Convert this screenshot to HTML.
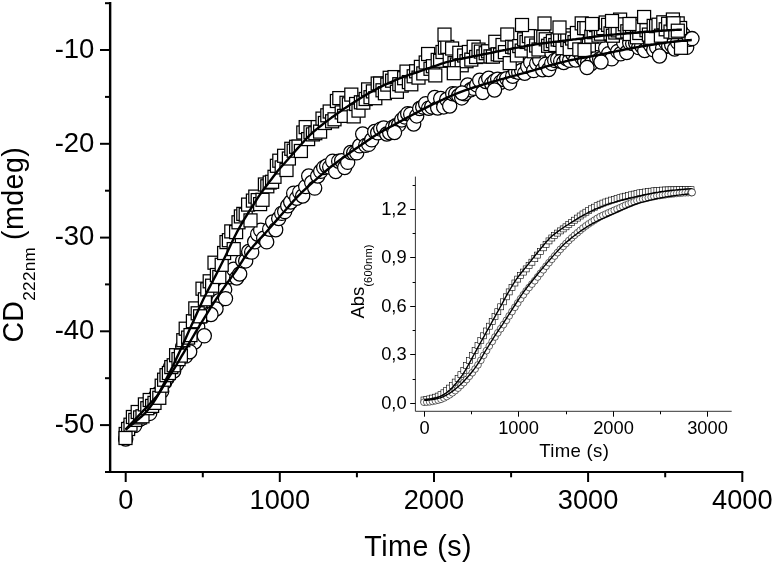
<!DOCTYPE html>
<html><head><meta charset="utf-8"><title>CD kinetics</title>
<style>
html,body{margin:0;padding:0;background:#fff;}
body{width:774px;height:565px;overflow:hidden;font-family:"Liberation Sans",sans-serif;}
svg{display:block;will-change:transform;}
svg text{font-family:"Liberation Sans",sans-serif;fill:#000;}
</style></head><body>
<svg width="774" height="565" viewBox="0 0 774 565">
<rect width="774" height="565" fill="#fff"/>
<g fill="#fff" stroke="#000" stroke-width="1.25">
<circle cx="125.7" cy="439.0" r="7.1"/>
<circle cx="128.7" cy="426.7" r="7.1"/>
<circle cx="131.7" cy="425.6" r="7.1"/>
<circle cx="134.7" cy="425.6" r="7.1"/>
<circle cx="137.7" cy="417.1" r="7.1"/>
<circle cx="140.7" cy="418.8" r="7.1"/>
<circle cx="143.7" cy="415.6" r="7.1"/>
<circle cx="146.7" cy="404.1" r="7.1"/>
<circle cx="149.7" cy="413.4" r="7.1"/>
<circle cx="152.7" cy="406.6" r="7.1"/>
<circle cx="155.7" cy="396.3" r="7.1"/>
<circle cx="158.7" cy="393.2" r="7.1"/>
<circle cx="161.7" cy="391.2" r="7.1"/>
<circle cx="164.7" cy="382.4" r="7.1"/>
<circle cx="167.7" cy="377.5" r="7.1"/>
<circle cx="170.7" cy="366.6" r="7.1"/>
<circle cx="173.7" cy="371.0" r="7.1"/>
<circle cx="176.7" cy="364.2" r="7.1"/>
<circle cx="179.7" cy="358.9" r="7.1"/>
<circle cx="182.7" cy="346.6" r="7.1"/>
<circle cx="185.7" cy="356.1" r="7.1"/>
<circle cx="188.7" cy="343.0" r="7.1"/>
<circle cx="191.7" cy="335.9" r="7.1"/>
<circle cx="194.7" cy="342.0" r="7.1"/>
<circle cx="197.7" cy="327.0" r="7.1"/>
<circle cx="200.7" cy="316.4" r="7.1"/>
<circle cx="203.7" cy="316.0" r="7.1"/>
<circle cx="206.7" cy="304.0" r="7.1"/>
<circle cx="209.7" cy="313.8" r="7.1"/>
<circle cx="212.7" cy="302.6" r="7.1"/>
<circle cx="215.7" cy="296.6" r="7.1"/>
<circle cx="218.7" cy="300.8" r="7.1"/>
<circle cx="221.7" cy="283.8" r="7.1"/>
<circle cx="224.7" cy="289.5" r="7.1"/>
<circle cx="227.7" cy="273.6" r="7.1"/>
<circle cx="230.7" cy="276.7" r="7.1"/>
<circle cx="233.7" cy="269.2" r="7.1"/>
<circle cx="236.7" cy="278.0" r="7.1"/>
<circle cx="239.7" cy="274.0" r="7.1"/>
<circle cx="242.7" cy="260.7" r="7.1"/>
<circle cx="245.7" cy="260.9" r="7.1"/>
<circle cx="248.7" cy="251.5" r="7.1"/>
<circle cx="251.7" cy="252.1" r="7.1"/>
<circle cx="254.7" cy="241.8" r="7.1"/>
<circle cx="257.7" cy="234.2" r="7.1"/>
<circle cx="260.7" cy="230.2" r="7.1"/>
<circle cx="263.7" cy="238.2" r="7.1"/>
<circle cx="266.7" cy="241.9" r="7.1"/>
<circle cx="269.7" cy="229.2" r="7.1"/>
<circle cx="272.7" cy="222.0" r="7.1"/>
<circle cx="275.7" cy="229.7" r="7.1"/>
<circle cx="278.7" cy="218.5" r="7.1"/>
<circle cx="281.7" cy="213.4" r="7.1"/>
<circle cx="284.7" cy="211.6" r="7.1"/>
<circle cx="287.7" cy="205.8" r="7.1"/>
<circle cx="290.7" cy="202.0" r="7.1"/>
<circle cx="293.7" cy="193.2" r="7.1"/>
<circle cx="296.7" cy="198.2" r="7.1"/>
<circle cx="299.7" cy="192.2" r="7.1"/>
<circle cx="302.7" cy="196.0" r="7.1"/>
<circle cx="305.7" cy="186.6" r="7.1"/>
<circle cx="308.7" cy="176.0" r="7.1"/>
<circle cx="311.7" cy="182.5" r="7.1"/>
<circle cx="314.7" cy="188.1" r="7.1"/>
<circle cx="317.7" cy="176.0" r="7.1"/>
<circle cx="320.7" cy="171.3" r="7.1"/>
<circle cx="323.7" cy="167.6" r="7.1"/>
<circle cx="326.7" cy="166.0" r="7.1"/>
<circle cx="329.7" cy="167.1" r="7.1"/>
<circle cx="332.7" cy="161.2" r="7.1"/>
<circle cx="335.7" cy="171.5" r="7.1"/>
<circle cx="338.7" cy="161.2" r="7.1"/>
<circle cx="341.7" cy="160.7" r="7.1"/>
<circle cx="344.7" cy="167.5" r="7.1"/>
<circle cx="347.7" cy="162.3" r="7.1"/>
<circle cx="350.7" cy="152.5" r="7.1"/>
<circle cx="353.7" cy="152.9" r="7.1"/>
<circle cx="356.7" cy="152.9" r="7.1"/>
<circle cx="359.7" cy="145.8" r="7.1"/>
<circle cx="362.7" cy="134.0" r="7.1"/>
<circle cx="365.7" cy="145.4" r="7.1"/>
<circle cx="368.7" cy="144.4" r="7.1"/>
<circle cx="371.7" cy="139.8" r="7.1"/>
<circle cx="374.7" cy="131.5" r="7.1"/>
<circle cx="377.7" cy="132.8" r="7.1"/>
<circle cx="380.7" cy="129.1" r="7.1"/>
<circle cx="383.7" cy="128.0" r="7.1"/>
<circle cx="386.7" cy="134.0" r="7.1"/>
<circle cx="389.7" cy="132.7" r="7.1"/>
<circle cx="392.7" cy="127.4" r="7.1"/>
<circle cx="395.7" cy="125.8" r="7.1"/>
<circle cx="398.7" cy="124.8" r="7.1"/>
<circle cx="401.7" cy="119.9" r="7.1"/>
<circle cx="404.7" cy="116.9" r="7.1"/>
<circle cx="407.7" cy="113.7" r="7.1"/>
<circle cx="410.7" cy="114.2" r="7.1"/>
<circle cx="413.7" cy="124.0" r="7.1"/>
<circle cx="416.7" cy="115.9" r="7.1"/>
<circle cx="419.7" cy="108.5" r="7.1"/>
<circle cx="422.7" cy="106.9" r="7.1"/>
<circle cx="425.7" cy="103.7" r="7.1"/>
<circle cx="428.7" cy="108.2" r="7.1"/>
<circle cx="431.7" cy="106.9" r="7.1"/>
<circle cx="434.7" cy="97.5" r="7.1"/>
<circle cx="437.7" cy="108.0" r="7.1"/>
<circle cx="440.7" cy="98.5" r="7.1"/>
<circle cx="443.7" cy="106.9" r="7.1"/>
<circle cx="446.7" cy="99.5" r="7.1"/>
<circle cx="449.7" cy="106.0" r="7.1"/>
<circle cx="452.7" cy="93.7" r="7.1"/>
<circle cx="455.7" cy="93.9" r="7.1"/>
<circle cx="458.7" cy="95.8" r="7.1"/>
<circle cx="461.7" cy="97.9" r="7.1"/>
<circle cx="464.7" cy="93.7" r="7.1"/>
<circle cx="467.7" cy="85.0" r="7.1"/>
<circle cx="470.7" cy="89.8" r="7.1"/>
<circle cx="473.7" cy="88.3" r="7.1"/>
<circle cx="476.7" cy="84.9" r="7.1"/>
<circle cx="479.7" cy="80.3" r="7.1"/>
<circle cx="482.7" cy="92.5" r="7.1"/>
<circle cx="485.7" cy="81.5" r="7.1"/>
<circle cx="488.7" cy="78.3" r="7.1"/>
<circle cx="491.7" cy="83.7" r="7.1"/>
<circle cx="494.7" cy="81.0" r="7.1"/>
<circle cx="497.7" cy="79.1" r="7.1"/>
<circle cx="500.7" cy="82.2" r="7.1"/>
<circle cx="503.7" cy="79.5" r="7.1"/>
<circle cx="506.7" cy="78.6" r="7.1"/>
<circle cx="509.7" cy="82.9" r="7.1"/>
<circle cx="512.7" cy="76.2" r="7.1"/>
<circle cx="515.7" cy="71.6" r="7.1"/>
<circle cx="518.7" cy="72.3" r="7.1"/>
<circle cx="521.7" cy="70.4" r="7.1"/>
<circle cx="524.7" cy="73.2" r="7.1"/>
<circle cx="527.7" cy="66.6" r="7.1"/>
<circle cx="530.7" cy="62.3" r="7.1"/>
<circle cx="533.7" cy="70.6" r="7.1"/>
<circle cx="536.7" cy="63.4" r="7.1"/>
<circle cx="539.7" cy="60.0" r="7.1"/>
<circle cx="542.7" cy="69.7" r="7.1"/>
<circle cx="545.7" cy="64.2" r="7.1"/>
<circle cx="548.7" cy="69.5" r="7.1"/>
<circle cx="551.7" cy="63.4" r="7.1"/>
<circle cx="554.7" cy="60.4" r="7.1"/>
<circle cx="557.7" cy="59.3" r="7.1"/>
<circle cx="560.7" cy="61.2" r="7.1"/>
<circle cx="563.7" cy="62.5" r="7.1"/>
<circle cx="566.7" cy="58.7" r="7.1"/>
<circle cx="569.7" cy="60.3" r="7.1"/>
<circle cx="572.7" cy="54.0" r="7.1"/>
<circle cx="575.7" cy="60.0" r="7.1"/>
<circle cx="578.7" cy="51.1" r="7.1"/>
<circle cx="581.7" cy="57.5" r="7.1"/>
<circle cx="584.7" cy="61.0" r="7.1"/>
<circle cx="587.7" cy="61.9" r="7.1"/>
<circle cx="590.7" cy="64.0" r="7.1"/>
<circle cx="593.7" cy="48.2" r="7.1"/>
<circle cx="596.7" cy="57.8" r="7.1"/>
<circle cx="599.7" cy="59.1" r="7.1"/>
<circle cx="602.7" cy="57.6" r="7.1"/>
<circle cx="605.7" cy="48.2" r="7.1"/>
<circle cx="608.7" cy="53.7" r="7.1"/>
<circle cx="611.7" cy="58.8" r="7.1"/>
<circle cx="614.7" cy="44.0" r="7.1"/>
<circle cx="617.7" cy="51.4" r="7.1"/>
<circle cx="620.7" cy="53.8" r="7.1"/>
<circle cx="623.7" cy="42.6" r="7.1"/>
<circle cx="626.7" cy="52.5" r="7.1"/>
<circle cx="629.7" cy="42.8" r="7.1"/>
<circle cx="632.7" cy="43.5" r="7.1"/>
<circle cx="635.7" cy="43.1" r="7.1"/>
<circle cx="638.7" cy="47.6" r="7.1"/>
<circle cx="641.7" cy="46.1" r="7.1"/>
<circle cx="644.7" cy="50.5" r="7.1"/>
<circle cx="647.7" cy="41.6" r="7.1"/>
<circle cx="650.7" cy="45.2" r="7.1"/>
<circle cx="653.7" cy="49.9" r="7.1"/>
<circle cx="656.7" cy="47.2" r="7.1"/>
<circle cx="659.7" cy="38.8" r="7.1"/>
<circle cx="662.7" cy="48.0" r="7.1"/>
<circle cx="665.7" cy="42.3" r="7.1"/>
<circle cx="668.7" cy="46.0" r="7.1"/>
<circle cx="671.7" cy="45.1" r="7.1"/>
<circle cx="674.7" cy="49.0" r="7.1"/>
<circle cx="677.7" cy="42.3" r="7.1"/>
<circle cx="680.7" cy="30.9" r="7.1"/>
<circle cx="683.7" cy="34.9" r="7.1"/>
<circle cx="686.7" cy="47.3" r="7.1"/>
<circle cx="689.7" cy="39.3" r="7.1"/>
<circle cx="204.3" cy="335.8" r="7.1"/>
<circle cx="189.7" cy="351.7" r="7.1"/>
<circle cx="225.5" cy="298.6" r="7.1"/>
<circle cx="216.0" cy="309.0" r="7.1"/>
<circle cx="211.0" cy="314.5" r="7.1"/>
<circle cx="394.5" cy="132.5" r="7.1"/>
<circle cx="462.0" cy="93.0" r="7.1"/>
<circle cx="494.5" cy="90.0" r="7.1"/>
<circle cx="587.0" cy="67.5" r="7.1"/>
<circle cx="659.5" cy="56.0" r="7.1"/>
<circle cx="601.0" cy="62.0" r="7.1"/>
<circle cx="692.0" cy="38.6" r="7.1"/>
</g>
<g fill="#fff" stroke="#000" stroke-width="1.25">
<rect x="119.2" y="427.5" width="13.0" height="13.0"/>
<rect x="121.6" y="422.5" width="13.0" height="13.0"/>
<rect x="124.0" y="418.2" width="13.0" height="13.0"/>
<rect x="126.4" y="410.5" width="13.0" height="13.0"/>
<rect x="128.8" y="413.4" width="13.0" height="13.0"/>
<rect x="131.2" y="405.5" width="13.0" height="13.0"/>
<rect x="133.6" y="410.9" width="13.0" height="13.0"/>
<rect x="136.0" y="409.8" width="13.0" height="13.0"/>
<rect x="138.4" y="397.9" width="13.0" height="13.0"/>
<rect x="140.8" y="401.7" width="13.0" height="13.0"/>
<rect x="143.2" y="393.5" width="13.0" height="13.0"/>
<rect x="145.6" y="399.4" width="13.0" height="13.0"/>
<rect x="148.0" y="396.4" width="13.0" height="13.0"/>
<rect x="150.4" y="388.6" width="13.0" height="13.0"/>
<rect x="152.8" y="391.3" width="13.0" height="13.0"/>
<rect x="155.2" y="379.2" width="13.0" height="13.0"/>
<rect x="157.6" y="373.2" width="13.0" height="13.0"/>
<rect x="160.0" y="368.7" width="13.0" height="13.0"/>
<rect x="162.4" y="366.5" width="13.0" height="13.0"/>
<rect x="164.8" y="360.6" width="13.0" height="13.0"/>
<rect x="167.2" y="358.8" width="13.0" height="13.0"/>
<rect x="169.6" y="348.7" width="13.0" height="13.0"/>
<rect x="172.0" y="352.6" width="13.0" height="13.0"/>
<rect x="174.4" y="349.1" width="13.0" height="13.0"/>
<rect x="176.8" y="333.7" width="13.0" height="13.0"/>
<rect x="179.2" y="322.2" width="13.0" height="13.0"/>
<rect x="181.6" y="331.1" width="13.0" height="13.0"/>
<rect x="184.0" y="328.6" width="13.0" height="13.0"/>
<rect x="186.4" y="314.7" width="13.0" height="13.0"/>
<rect x="188.8" y="301.9" width="13.0" height="13.0"/>
<rect x="191.2" y="306.8" width="13.0" height="13.0"/>
<rect x="193.6" y="309.8" width="13.0" height="13.0"/>
<rect x="196.0" y="282.2" width="13.0" height="13.0"/>
<rect x="198.4" y="292.8" width="13.0" height="13.0"/>
<rect x="200.8" y="282.9" width="13.0" height="13.0"/>
<rect x="203.2" y="274.8" width="13.0" height="13.0"/>
<rect x="205.6" y="279.2" width="13.0" height="13.0"/>
<rect x="208.0" y="256.2" width="13.0" height="13.0"/>
<rect x="210.4" y="268.5" width="13.0" height="13.0"/>
<rect x="212.8" y="270.5" width="13.0" height="13.0"/>
<rect x="215.2" y="258.3" width="13.0" height="13.0"/>
<rect x="217.6" y="246.5" width="13.0" height="13.0"/>
<rect x="220.0" y="235.6" width="13.0" height="13.0"/>
<rect x="222.4" y="233.7" width="13.0" height="13.0"/>
<rect x="224.8" y="224.9" width="13.0" height="13.0"/>
<rect x="227.2" y="242.6" width="13.0" height="13.0"/>
<rect x="229.6" y="225.6" width="13.0" height="13.0"/>
<rect x="232.0" y="215.8" width="13.0" height="13.0"/>
<rect x="234.4" y="209.9" width="13.0" height="13.0"/>
<rect x="236.8" y="207.4" width="13.0" height="13.0"/>
<rect x="239.2" y="208.2" width="13.0" height="13.0"/>
<rect x="241.6" y="198.1" width="13.0" height="13.0"/>
<rect x="244.0" y="213.9" width="13.0" height="13.0"/>
<rect x="246.4" y="194.1" width="13.0" height="13.0"/>
<rect x="248.8" y="190.1" width="13.0" height="13.0"/>
<rect x="251.2" y="193.6" width="13.0" height="13.0"/>
<rect x="253.6" y="197.6" width="13.0" height="13.0"/>
<rect x="256.0" y="193.3" width="13.0" height="13.0"/>
<rect x="258.4" y="178.0" width="13.0" height="13.0"/>
<rect x="260.8" y="179.8" width="13.0" height="13.0"/>
<rect x="263.2" y="176.0" width="13.0" height="13.0"/>
<rect x="265.6" y="175.3" width="13.0" height="13.0"/>
<rect x="268.0" y="170.3" width="13.0" height="13.0"/>
<rect x="270.4" y="159.3" width="13.0" height="13.0"/>
<rect x="272.8" y="154.2" width="13.0" height="13.0"/>
<rect x="275.2" y="160.9" width="13.0" height="13.0"/>
<rect x="277.6" y="149.3" width="13.0" height="13.0"/>
<rect x="280.0" y="163.5" width="13.0" height="13.0"/>
<rect x="282.4" y="152.0" width="13.0" height="13.0"/>
<rect x="284.8" y="142.3" width="13.0" height="13.0"/>
<rect x="287.2" y="144.2" width="13.0" height="13.0"/>
<rect x="289.6" y="140.3" width="13.0" height="13.0"/>
<rect x="292.0" y="140.1" width="13.0" height="13.0"/>
<rect x="294.4" y="144.5" width="13.0" height="13.0"/>
<rect x="296.8" y="126.0" width="13.0" height="13.0"/>
<rect x="299.2" y="120.6" width="13.0" height="13.0"/>
<rect x="301.6" y="132.6" width="13.0" height="13.0"/>
<rect x="304.0" y="125.8" width="13.0" height="13.0"/>
<rect x="306.4" y="127.9" width="13.0" height="13.0"/>
<rect x="308.8" y="126.7" width="13.0" height="13.0"/>
<rect x="311.2" y="120.6" width="13.0" height="13.0"/>
<rect x="313.6" y="125.1" width="13.0" height="13.0"/>
<rect x="316.0" y="112.1" width="13.0" height="13.0"/>
<rect x="318.4" y="116.5" width="13.0" height="13.0"/>
<rect x="320.8" y="108.8" width="13.0" height="13.0"/>
<rect x="323.2" y="105.0" width="13.0" height="13.0"/>
<rect x="325.6" y="114.8" width="13.0" height="13.0"/>
<rect x="328.0" y="112.8" width="13.0" height="13.0"/>
<rect x="330.4" y="94.5" width="13.0" height="13.0"/>
<rect x="332.8" y="91.6" width="13.0" height="13.0"/>
<rect x="335.2" y="105.9" width="13.0" height="13.0"/>
<rect x="337.6" y="109.4" width="13.0" height="13.0"/>
<rect x="340.0" y="96.3" width="13.0" height="13.0"/>
<rect x="342.4" y="97.8" width="13.0" height="13.0"/>
<rect x="344.8" y="88.1" width="13.0" height="13.0"/>
<rect x="347.2" y="109.9" width="13.0" height="13.0"/>
<rect x="349.6" y="97.5" width="13.0" height="13.0"/>
<rect x="352.0" y="104.1" width="13.0" height="13.0"/>
<rect x="354.4" y="95.8" width="13.0" height="13.0"/>
<rect x="356.8" y="96.1" width="13.0" height="13.0"/>
<rect x="359.2" y="92.5" width="13.0" height="13.0"/>
<rect x="361.6" y="82.9" width="13.0" height="13.0"/>
<rect x="364.0" y="90.7" width="13.0" height="13.0"/>
<rect x="366.4" y="84.9" width="13.0" height="13.0"/>
<rect x="368.8" y="91.7" width="13.0" height="13.0"/>
<rect x="371.2" y="77.0" width="13.0" height="13.0"/>
<rect x="373.6" y="77.1" width="13.0" height="13.0"/>
<rect x="376.0" y="83.8" width="13.0" height="13.0"/>
<rect x="378.4" y="86.7" width="13.0" height="13.0"/>
<rect x="380.8" y="78.1" width="13.0" height="13.0"/>
<rect x="383.2" y="71.3" width="13.0" height="13.0"/>
<rect x="385.6" y="74.2" width="13.0" height="13.0"/>
<rect x="388.0" y="70.6" width="13.0" height="13.0"/>
<rect x="390.4" y="85.3" width="13.0" height="13.0"/>
<rect x="392.8" y="77.7" width="13.0" height="13.0"/>
<rect x="395.2" y="79.1" width="13.0" height="13.0"/>
<rect x="397.6" y="71.7" width="13.0" height="13.0"/>
<rect x="400.0" y="65.1" width="13.0" height="13.0"/>
<rect x="402.4" y="75.6" width="13.0" height="13.0"/>
<rect x="404.8" y="77.8" width="13.0" height="13.0"/>
<rect x="407.2" y="69.8" width="13.0" height="13.0"/>
<rect x="409.6" y="64.8" width="13.0" height="13.0"/>
<rect x="412.0" y="71.1" width="13.0" height="13.0"/>
<rect x="414.4" y="60.4" width="13.0" height="13.0"/>
<rect x="416.8" y="66.9" width="13.0" height="13.0"/>
<rect x="419.2" y="56.0" width="13.0" height="13.0"/>
<rect x="421.6" y="47.5" width="13.0" height="13.0"/>
<rect x="424.0" y="62.3" width="13.0" height="13.0"/>
<rect x="426.4" y="59.7" width="13.0" height="13.0"/>
<rect x="428.8" y="68.9" width="13.0" height="13.0"/>
<rect x="431.2" y="53.4" width="13.0" height="13.0"/>
<rect x="433.6" y="54.3" width="13.0" height="13.0"/>
<rect x="436.0" y="45.5" width="13.0" height="13.0"/>
<rect x="438.4" y="41.2" width="13.0" height="13.0"/>
<rect x="440.8" y="40.4" width="13.0" height="13.0"/>
<rect x="443.2" y="53.5" width="13.0" height="13.0"/>
<rect x="445.6" y="42.0" width="13.0" height="13.0"/>
<rect x="448.0" y="56.6" width="13.0" height="13.0"/>
<rect x="450.4" y="58.0" width="13.0" height="13.0"/>
<rect x="452.8" y="46.3" width="13.0" height="13.0"/>
<rect x="455.2" y="58.8" width="13.0" height="13.0"/>
<rect x="457.6" y="49.0" width="13.0" height="13.0"/>
<rect x="460.0" y="54.7" width="13.0" height="13.0"/>
<rect x="462.4" y="45.5" width="13.0" height="13.0"/>
<rect x="464.8" y="53.1" width="13.0" height="13.0"/>
<rect x="467.2" y="40.3" width="13.0" height="13.0"/>
<rect x="469.6" y="50.5" width="13.0" height="13.0"/>
<rect x="472.0" y="43.1" width="13.0" height="13.0"/>
<rect x="474.4" y="45.1" width="13.0" height="13.0"/>
<rect x="476.8" y="49.9" width="13.0" height="13.0"/>
<rect x="479.2" y="46.7" width="13.0" height="13.0"/>
<rect x="481.6" y="44.8" width="13.0" height="13.0"/>
<rect x="484.0" y="49.9" width="13.0" height="13.0"/>
<rect x="486.4" y="50.1" width="13.0" height="13.0"/>
<rect x="488.8" y="35.3" width="13.0" height="13.0"/>
<rect x="491.2" y="47.8" width="13.0" height="13.0"/>
<rect x="493.6" y="48.2" width="13.0" height="13.0"/>
<rect x="496.0" y="38.5" width="13.0" height="13.0"/>
<rect x="498.4" y="45.6" width="13.0" height="13.0"/>
<rect x="500.8" y="28.0" width="13.0" height="13.0"/>
<rect x="503.2" y="56.6" width="13.0" height="13.0"/>
<rect x="505.6" y="40.3" width="13.0" height="13.0"/>
<rect x="508.0" y="40.9" width="13.0" height="13.0"/>
<rect x="510.4" y="48.9" width="13.0" height="13.0"/>
<rect x="512.8" y="39.6" width="13.0" height="13.0"/>
<rect x="515.2" y="44.1" width="13.0" height="13.0"/>
<rect x="517.6" y="32.8" width="13.0" height="13.0"/>
<rect x="520.0" y="35.5" width="13.0" height="13.0"/>
<rect x="522.4" y="29.6" width="13.0" height="13.0"/>
<rect x="524.8" y="37.0" width="13.0" height="13.0"/>
<rect x="527.2" y="44.8" width="13.0" height="13.0"/>
<rect x="529.6" y="39.0" width="13.0" height="13.0"/>
<rect x="532.0" y="43.0" width="13.0" height="13.0"/>
<rect x="534.4" y="29.9" width="13.0" height="13.0"/>
<rect x="536.8" y="30.5" width="13.0" height="13.0"/>
<rect x="539.2" y="32.8" width="13.0" height="13.0"/>
<rect x="541.6" y="39.3" width="13.0" height="13.0"/>
<rect x="544.0" y="37.5" width="13.0" height="13.0"/>
<rect x="546.4" y="34.6" width="13.0" height="13.0"/>
<rect x="548.8" y="38.5" width="13.0" height="13.0"/>
<rect x="551.2" y="33.0" width="13.0" height="13.0"/>
<rect x="553.6" y="33.4" width="13.0" height="13.0"/>
<rect x="556.0" y="41.7" width="13.0" height="13.0"/>
<rect x="558.4" y="28.8" width="13.0" height="13.0"/>
<rect x="560.8" y="33.5" width="13.0" height="13.0"/>
<rect x="563.2" y="42.5" width="13.0" height="13.0"/>
<rect x="565.6" y="32.0" width="13.0" height="13.0"/>
<rect x="568.0" y="35.6" width="13.0" height="13.0"/>
<rect x="570.4" y="26.5" width="13.0" height="13.0"/>
<rect x="572.8" y="42.9" width="13.0" height="13.0"/>
<rect x="575.2" y="16.9" width="13.0" height="13.0"/>
<rect x="577.6" y="21.6" width="13.0" height="13.0"/>
<rect x="580.0" y="21.7" width="13.0" height="13.0"/>
<rect x="582.4" y="39.0" width="13.0" height="13.0"/>
<rect x="584.8" y="30.2" width="13.0" height="13.0"/>
<rect x="587.2" y="25.7" width="13.0" height="13.0"/>
<rect x="589.6" y="18.6" width="13.0" height="13.0"/>
<rect x="592.0" y="29.1" width="13.0" height="13.0"/>
<rect x="594.4" y="27.2" width="13.0" height="13.0"/>
<rect x="596.8" y="21.6" width="13.0" height="13.0"/>
<rect x="599.2" y="16.0" width="13.0" height="13.0"/>
<rect x="601.6" y="18.4" width="13.0" height="13.0"/>
<rect x="604.0" y="26.9" width="13.0" height="13.0"/>
<rect x="606.4" y="29.2" width="13.0" height="13.0"/>
<rect x="608.8" y="26.0" width="13.0" height="13.0"/>
<rect x="611.2" y="23.9" width="13.0" height="13.0"/>
<rect x="613.6" y="13.1" width="13.0" height="13.0"/>
<rect x="616.0" y="25.3" width="13.0" height="13.0"/>
<rect x="618.4" y="17.8" width="13.0" height="13.0"/>
<rect x="620.8" y="24.8" width="13.0" height="13.0"/>
<rect x="623.2" y="27.5" width="13.0" height="13.0"/>
<rect x="625.6" y="19.9" width="13.0" height="13.0"/>
<rect x="628.0" y="17.5" width="13.0" height="13.0"/>
<rect x="630.4" y="30.8" width="13.0" height="13.0"/>
<rect x="632.8" y="26.5" width="13.0" height="13.0"/>
<rect x="635.2" y="19.9" width="13.0" height="13.0"/>
<rect x="637.6" y="10.5" width="13.0" height="13.0"/>
<rect x="640.0" y="23.7" width="13.0" height="13.0"/>
<rect x="642.4" y="28.1" width="13.0" height="13.0"/>
<rect x="644.8" y="31.3" width="13.0" height="13.0"/>
<rect x="647.2" y="19.4" width="13.0" height="13.0"/>
<rect x="649.6" y="19.6" width="13.0" height="13.0"/>
<rect x="652.0" y="18.2" width="13.0" height="13.0"/>
<rect x="654.4" y="29.2" width="13.0" height="13.0"/>
<rect x="656.8" y="15.8" width="13.0" height="13.0"/>
<rect x="659.2" y="22.8" width="13.0" height="13.0"/>
<rect x="661.6" y="17.3" width="13.0" height="13.0"/>
<rect x="664.0" y="25.1" width="13.0" height="13.0"/>
<rect x="666.4" y="13.0" width="13.0" height="13.0"/>
<rect x="668.8" y="25.7" width="13.0" height="13.0"/>
<rect x="671.2" y="16.9" width="13.0" height="13.0"/>
<rect x="673.6" y="21.5" width="13.0" height="13.0"/>
<rect x="447.3" y="66.7" width="13.0" height="13.0"/>
<rect x="438.0" y="28.1" width="13.0" height="13.0"/>
<rect x="515.5" y="18.5" width="13.0" height="13.0"/>
<rect x="538.0" y="17.0" width="13.0" height="13.0"/>
<rect x="553.0" y="21.0" width="13.0" height="13.0"/>
<rect x="585.5" y="17.5" width="13.0" height="13.0"/>
<rect x="605.5" y="14.5" width="13.0" height="13.0"/>
<rect x="623.0" y="17.5" width="13.0" height="13.0"/>
<rect x="578.0" y="43.5" width="13.0" height="13.0"/>
<rect x="667.0" y="16.8" width="13.0" height="13.0"/>
<rect x="674.5" y="41.3" width="13.0" height="13.0"/>
<rect x="671.3" y="24.2" width="13.0" height="13.0"/>
<rect x="119.0" y="431.5" width="13.0" height="13.0"/>
</g>
<g fill="none" stroke="#000" stroke-width="2.4" stroke-linejoin="round" stroke-linecap="butt">
<path d="M125.6 429.6 L127.6 428.0 L129.6 426.4 L131.6 424.8 L133.6 423.2 L135.6 421.5 L137.6 419.8 L139.6 418.2 L141.6 416.5 L143.6 414.6 L145.6 412.6 L147.6 410.3 L149.6 407.7 L151.6 405.1 L153.6 402.2 L155.6 399.0 L157.6 395.7 L159.6 392.4 L161.6 389.1 L163.6 385.8 L165.6 382.6 L167.6 379.3 L169.6 376.1 L171.6 372.9 L173.6 369.6 L175.6 366.3 L177.6 363.0 L179.6 359.6 L181.6 356.2 L183.6 352.8 L185.6 349.3 L187.6 345.8 L189.6 342.4 L191.6 339.0 L193.6 335.6 L195.6 332.2 L197.6 328.9 L199.6 325.6 L201.6 322.3 L203.6 319.1 L205.6 315.8 L207.6 312.6 L209.6 309.4 L211.6 306.2 L213.6 303.1 L215.6 300.0 L217.6 297.0 L219.6 294.0 L221.6 291.0 L223.6 288.1 L225.6 285.3 L227.6 282.5 L229.6 279.7 L231.6 276.9 L233.6 274.1 L235.6 271.2 L237.6 268.3 L239.6 265.2 L241.6 262.1 L243.6 258.9 L245.6 255.9 L247.6 253.1 L249.6 250.6 L251.6 248.2 L253.6 245.8 L255.6 243.6 L257.6 241.4 L259.6 239.2 L261.6 237.1 L263.6 234.9 L265.6 232.7 L267.6 230.5 L269.6 228.2 L271.6 226.0 L273.6 223.7 L275.6 221.4 L277.6 219.1 L279.6 216.8 L281.6 214.5 L283.6 212.3 L285.6 210.0 L287.6 207.7 L289.6 205.4 L291.6 203.1 L293.6 200.9 L295.6 198.7 L297.6 196.6 L299.6 194.6 L301.6 192.6 L303.6 190.7 L305.6 188.8 L307.6 187.0 L309.6 185.2 L311.6 183.4 L313.6 181.6 L315.6 179.8 L317.6 178.1 L319.6 176.3 L321.6 174.6 L323.6 172.9 L325.6 171.2 L327.6 169.5 L329.6 167.9 L331.6 166.3 L333.6 164.8 L335.6 163.2 L337.6 161.7 L339.6 160.2 L341.6 158.8 L343.6 157.3 L345.6 155.9 L347.6 154.4 L349.6 153.0 L351.6 151.6 L353.6 150.2 L355.6 148.8 L357.6 147.4 L359.6 146.1 L361.6 144.7 L363.6 143.3 L365.6 142.0 L367.6 140.6 L369.6 139.2 L371.6 137.8 L373.6 136.5 L375.6 135.2 L377.6 134.0 L379.6 132.8 L381.6 131.6 L383.6 130.5 L385.6 129.4 L387.6 128.3 L389.6 127.2 L391.6 126.1 L393.6 125.1 L395.6 124.0 L397.6 122.9 L399.6 121.8 L401.6 120.7 L403.6 119.6 L405.6 118.5 L407.6 117.4 L409.6 116.4 L411.6 115.3 L413.6 114.2 L415.6 113.1 L417.6 112.1 L419.6 111.0 L421.6 109.9 L423.6 108.9 L425.6 107.9 L427.6 106.9 L429.6 105.9 L431.6 104.9 L433.6 104.0 L435.6 103.0 L437.6 102.0 L439.6 101.1 L441.6 100.2 L443.6 99.2 L445.6 98.3 L447.6 97.4 L449.6 96.5 L451.6 95.7 L453.6 94.8 L455.6 94.0 L457.6 93.2 L459.6 92.4 L461.6 91.6 L463.6 90.9 L465.6 90.2 L467.6 89.5 L469.6 88.8 L471.6 88.2 L473.6 87.5 L475.6 86.9 L477.6 86.3 L479.6 85.6 L481.6 85.0 L483.6 84.4 L485.6 83.8 L487.6 83.2 L489.6 82.6 L491.6 82.0 L493.6 81.4 L495.6 80.9 L497.6 80.3 L499.6 79.7 L501.6 79.1 L503.6 78.6 L505.6 78.0 L507.6 77.5 L509.6 76.9 L511.6 76.4 L513.6 75.8 L515.6 75.3 L517.6 74.8 L519.6 74.2 L521.6 73.7 L523.6 73.1 L525.6 72.5 L527.6 72.0 L529.6 71.4 L531.6 70.8 L533.6 70.3 L535.6 69.7 L537.6 69.1 L539.6 68.5 L541.6 67.9 L543.6 67.3 L545.6 66.7 L547.6 66.1 L549.6 65.5 L551.6 64.9 L553.6 64.4 L555.6 63.8 L557.6 63.3 L559.6 62.8 L561.6 62.3 L563.6 61.8 L565.6 61.3 L567.6 60.9 L569.6 60.4 L571.6 60.0 L573.6 59.6 L575.6 59.2 L577.6 58.8 L579.6 58.4 L581.6 58.0 L583.6 57.7 L585.6 57.3 L587.6 56.9 L589.6 56.5 L591.6 56.2 L593.6 55.8 L595.6 55.4 L597.6 55.1 L599.6 54.7 L601.6 54.3 L603.6 53.9 L605.6 53.5 L607.6 53.1 L609.6 52.7 L611.6 52.3 L613.6 51.9 L615.6 51.4 L617.6 51.0 L619.6 50.6 L621.6 50.2 L623.6 49.8 L625.6 49.4 L627.6 49.0 L629.6 48.6 L631.6 48.2 L633.6 47.8 L635.6 47.5 L637.6 47.1 L639.6 46.8 L641.6 46.4 L643.6 46.1 L645.6 45.8 L647.6 45.4 L649.6 45.1 L651.6 44.8 L653.6 44.5 L655.6 44.1 L657.6 43.8 L659.6 43.5 L661.6 43.2 L663.6 43.0 L665.6 42.7 L667.6 42.4 L669.6 42.2 L671.6 41.9 L673.6 41.7 L675.6 41.5 L677.6 41.3 L679.6 41.1 L681.6 40.9 L683.6 40.7 L685.6 40.5 L687.6 40.3 L689.6 40.2 L691.6 40.0 L691.8 40.0"/>
<path d="M125.6 429.6 L127.6 427.4 L129.6 425.2 L131.6 423.1 L133.6 421.0 L135.6 418.9 L137.6 416.8 L139.6 414.7 L141.6 412.6 L143.6 410.4 L145.6 408.3 L147.6 406.2 L149.6 404.0 L151.6 401.9 L153.6 399.8 L155.6 397.7 L157.6 395.4 L159.6 392.2 L161.6 388.1 L163.6 384.2 L165.6 380.3 L167.6 376.4 L169.6 372.5 L171.6 368.5 L173.6 364.5 L175.6 360.3 L177.6 356.0 L179.6 351.7 L181.6 347.3 L183.6 342.8 L185.6 338.4 L187.6 334.0 L189.6 329.6 L191.6 325.1 L193.6 320.7 L195.6 316.2 L197.6 311.7 L199.6 307.3 L201.6 303.0 L203.6 298.8 L205.6 294.7 L207.6 290.9 L209.6 287.1 L211.6 283.3 L213.6 279.5 L215.6 275.6 L217.6 271.7 L219.6 267.8 L221.6 263.8 L223.6 259.8 L225.6 255.7 L227.6 251.5 L229.6 247.2 L231.6 242.9 L233.6 238.7 L235.6 234.7 L237.6 230.9 L239.6 227.3 L241.6 223.8 L243.6 220.4 L245.6 217.1 L247.6 213.9 L249.6 210.7 L251.6 207.6 L253.6 204.5 L255.6 201.3 L257.6 198.2 L259.6 195.2 L261.6 192.3 L263.6 189.5 L265.6 186.8 L267.6 184.2 L269.6 181.6 L271.6 179.0 L273.6 176.3 L275.6 173.7 L277.6 171.1 L279.6 168.7 L281.6 166.4 L283.6 164.2 L285.6 162.0 L287.6 159.7 L289.6 157.5 L291.6 155.2 L293.6 152.9 L295.6 150.7 L297.6 148.4 L299.6 146.2 L301.6 144.0 L303.6 141.7 L305.6 139.5 L307.6 137.4 L309.6 135.4 L311.6 133.5 L313.6 131.7 L315.6 130.0 L317.6 128.4 L319.6 126.8 L321.6 125.2 L323.6 123.6 L325.6 122.1 L327.6 120.6 L329.6 119.1 L331.6 117.6 L333.6 116.2 L335.6 114.8 L337.6 113.3 L339.6 111.9 L341.6 110.5 L343.6 109.1 L345.6 107.8 L347.6 106.4 L349.6 105.1 L351.6 103.7 L353.6 102.5 L355.6 101.2 L357.6 100.0 L359.6 98.7 L361.6 97.5 L363.6 96.3 L365.6 95.1 L367.6 93.9 L369.6 92.8 L371.6 91.6 L373.6 90.5 L375.6 89.5 L377.6 88.4 L379.6 87.4 L381.6 86.4 L383.6 85.4 L385.6 84.5 L387.6 83.6 L389.6 82.7 L391.6 81.8 L393.6 80.9 L395.6 80.0 L397.6 79.2 L399.6 78.4 L401.6 77.6 L403.6 76.8 L405.6 76.1 L407.6 75.3 L409.6 74.6 L411.6 74.0 L413.6 73.3 L415.6 72.6 L417.6 72.0 L419.6 71.3 L421.6 70.6 L423.6 69.9 L425.6 69.2 L427.6 68.5 L429.6 67.9 L431.6 67.2 L433.6 66.5 L435.6 65.8 L437.6 65.1 L439.6 64.4 L441.6 63.7 L443.6 63.1 L445.6 62.4 L447.6 61.8 L449.6 61.3 L451.6 60.8 L453.6 60.3 L455.6 59.9 L457.6 59.5 L459.6 59.1 L461.6 58.7 L463.6 58.3 L465.6 57.9 L467.6 57.5 L469.6 57.1 L471.6 56.7 L473.6 56.3 L475.6 55.9 L477.6 55.5 L479.6 55.1 L481.6 54.7 L483.6 54.3 L485.6 53.9 L487.6 53.5 L489.6 53.1 L491.6 52.7 L493.6 52.3 L495.6 51.8 L497.6 51.4 L499.6 51.0 L501.6 50.6 L503.6 50.2 L505.6 49.9 L507.6 49.5 L509.6 49.1 L511.6 48.7 L513.6 48.3 L515.6 47.9 L517.6 47.6 L519.6 47.2 L521.6 46.8 L523.6 46.5 L525.6 46.1 L527.6 45.7 L529.6 45.4 L531.6 45.1 L533.6 44.7 L535.6 44.4 L537.6 44.1 L539.6 43.8 L541.6 43.5 L543.6 43.2 L545.6 43.0 L547.6 42.7 L549.6 42.4 L551.6 42.2 L553.6 41.9 L555.6 41.7 L557.6 41.5 L559.6 41.2 L561.6 41.0 L563.6 40.7 L565.6 40.5 L567.6 40.2 L569.6 39.9 L571.6 39.7 L573.6 39.4 L575.6 39.2 L577.6 38.9 L579.6 38.6 L581.6 38.4 L583.6 38.1 L585.6 37.9 L587.6 37.6 L589.6 37.3 L591.6 37.1 L593.6 36.8 L595.6 36.5 L597.6 36.3 L599.6 36.0 L601.6 35.8 L603.6 35.6 L605.6 35.4 L607.6 35.2 L609.6 35.0 L611.6 34.8 L613.6 34.6 L615.6 34.4 L617.6 34.2 L619.6 34.0 L621.6 33.9 L623.6 33.7 L625.6 33.5 L627.6 33.3 L629.6 33.2 L631.6 33.0 L633.6 32.8 L635.6 32.7 L637.6 32.5 L639.6 32.3 L641.6 32.2 L643.6 32.0 L645.6 31.9 L647.6 31.7 L649.6 31.6 L651.6 31.5 L653.6 31.3 L655.6 31.2 L657.6 31.0 L659.6 30.9 L661.6 30.7 L663.6 30.6 L665.6 30.5 L667.6 30.4 L669.6 30.3 L671.6 30.1 L673.6 30.0 L675.6 29.9 L677.6 29.8 L679.6 29.7 L681.6 29.6 L681.9 29.6"/>
</g>
<g fill="#fff" stroke="#000" stroke-width="0.6">
<rect x="421.0" y="397.0" width="6.0" height="6.0"/>
<rect x="423.8" y="396.5" width="6.0" height="6.0"/>
<rect x="426.7" y="395.9" width="6.0" height="6.0"/>
<rect x="429.5" y="395.1" width="6.0" height="6.0"/>
<rect x="432.4" y="394.2" width="6.0" height="6.0"/>
<rect x="435.2" y="393.1" width="6.0" height="6.0"/>
<rect x="438.0" y="391.7" width="6.0" height="6.0"/>
<rect x="440.9" y="389.8" width="6.0" height="6.0"/>
<rect x="443.7" y="387.6" width="6.0" height="6.0"/>
<rect x="446.6" y="385.1" width="6.0" height="6.0"/>
<rect x="449.4" y="382.3" width="6.0" height="6.0"/>
<rect x="452.2" y="379.1" width="6.0" height="6.0"/>
<rect x="455.1" y="375.6" width="6.0" height="6.0"/>
<rect x="457.9" y="371.7" width="6.0" height="6.0"/>
<rect x="460.8" y="367.5" width="6.0" height="6.0"/>
<rect x="463.6" y="362.6" width="6.0" height="6.0"/>
<rect x="466.4" y="357.3" width="6.0" height="6.0"/>
<rect x="469.3" y="352.3" width="6.0" height="6.0"/>
<rect x="472.1" y="347.4" width="6.0" height="6.0"/>
<rect x="475.0" y="342.4" width="6.0" height="6.0"/>
<rect x="477.8" y="337.6" width="6.0" height="6.0"/>
<rect x="480.6" y="332.8" width="6.0" height="6.0"/>
<rect x="483.5" y="328.0" width="6.0" height="6.0"/>
<rect x="486.3" y="323.2" width="6.0" height="6.0"/>
<rect x="489.2" y="318.4" width="6.0" height="6.0"/>
<rect x="492.0" y="313.5" width="6.0" height="6.0"/>
<rect x="494.8" y="308.7" width="6.0" height="6.0"/>
<rect x="497.7" y="303.8" width="6.0" height="6.0"/>
<rect x="500.5" y="298.8" width="6.0" height="6.0"/>
<rect x="503.4" y="293.8" width="6.0" height="6.0"/>
<rect x="506.2" y="288.9" width="6.0" height="6.0"/>
<rect x="509.0" y="284.4" width="6.0" height="6.0"/>
<rect x="511.9" y="280.0" width="6.0" height="6.0"/>
<rect x="514.7" y="276.1" width="6.0" height="6.0"/>
<rect x="517.6" y="272.5" width="6.0" height="6.0"/>
<rect x="520.4" y="269.1" width="6.0" height="6.0"/>
<rect x="523.2" y="265.9" width="6.0" height="6.0"/>
<rect x="526.1" y="262.6" width="6.0" height="6.0"/>
<rect x="528.9" y="259.2" width="6.0" height="6.0"/>
<rect x="531.8" y="255.7" width="6.0" height="6.0"/>
<rect x="534.6" y="252.1" width="6.0" height="6.0"/>
<rect x="537.4" y="248.4" width="6.0" height="6.0"/>
<rect x="540.3" y="244.8" width="6.0" height="6.0"/>
<rect x="543.1" y="241.3" width="6.0" height="6.0"/>
<rect x="546.0" y="237.9" width="6.0" height="6.0"/>
<rect x="548.8" y="235.0" width="6.0" height="6.0"/>
<rect x="551.6" y="232.5" width="6.0" height="6.0"/>
<rect x="554.5" y="230.1" width="6.0" height="6.0"/>
<rect x="557.3" y="227.9" width="6.0" height="6.0"/>
<rect x="560.2" y="225.9" width="6.0" height="6.0"/>
<rect x="563.0" y="223.8" width="6.0" height="6.0"/>
<rect x="565.8" y="221.6" width="6.0" height="6.0"/>
<rect x="568.7" y="219.4" width="6.0" height="6.0"/>
<rect x="571.5" y="217.2" width="6.0" height="6.0"/>
<rect x="574.4" y="215.1" width="6.0" height="6.0"/>
<rect x="577.2" y="213.0" width="6.0" height="6.0"/>
<rect x="580.0" y="211.0" width="6.0" height="6.0"/>
<rect x="582.9" y="209.2" width="6.0" height="6.0"/>
<rect x="585.7" y="207.5" width="6.0" height="6.0"/>
<rect x="588.6" y="205.8" width="6.0" height="6.0"/>
<rect x="591.4" y="204.2" width="6.0" height="6.0"/>
<rect x="594.2" y="202.7" width="6.0" height="6.0"/>
<rect x="597.1" y="201.2" width="6.0" height="6.0"/>
<rect x="599.9" y="200.1" width="6.0" height="6.0"/>
<rect x="602.8" y="199.0" width="6.0" height="6.0"/>
<rect x="605.6" y="198.1" width="6.0" height="6.0"/>
<rect x="608.4" y="197.1" width="6.0" height="6.0"/>
<rect x="611.3" y="196.3" width="6.0" height="6.0"/>
<rect x="614.1" y="195.4" width="6.0" height="6.0"/>
<rect x="617.0" y="194.7" width="6.0" height="6.0"/>
<rect x="619.8" y="193.9" width="6.0" height="6.0"/>
<rect x="622.6" y="193.2" width="6.0" height="6.0"/>
<rect x="625.5" y="192.5" width="6.0" height="6.0"/>
<rect x="628.3" y="191.8" width="6.0" height="6.0"/>
<rect x="631.2" y="191.1" width="6.0" height="6.0"/>
<rect x="634.0" y="190.5" width="6.0" height="6.0"/>
<rect x="636.8" y="189.8" width="6.0" height="6.0"/>
<rect x="639.7" y="189.4" width="6.0" height="6.0"/>
<rect x="642.5" y="189.0" width="6.0" height="6.0"/>
<rect x="645.4" y="188.5" width="6.0" height="6.0"/>
<rect x="648.2" y="188.2" width="6.0" height="6.0"/>
<rect x="651.0" y="187.8" width="6.0" height="6.0"/>
<rect x="653.9" y="187.5" width="6.0" height="6.0"/>
<rect x="656.7" y="187.3" width="6.0" height="6.0"/>
<rect x="659.6" y="187.1" width="6.0" height="6.0"/>
<rect x="662.4" y="187.0" width="6.0" height="6.0"/>
<rect x="665.2" y="186.9" width="6.0" height="6.0"/>
<rect x="668.1" y="186.8" width="6.0" height="6.0"/>
<rect x="670.9" y="186.8" width="6.0" height="6.0"/>
<rect x="673.8" y="186.8" width="6.0" height="6.0"/>
<rect x="676.6" y="186.7" width="6.0" height="6.0"/>
<rect x="679.4" y="186.7" width="6.0" height="6.0"/>
<rect x="682.3" y="186.6" width="6.0" height="6.0"/>
<rect x="685.1" y="186.7" width="6.0" height="6.0"/>
<rect x="688.0" y="186.7" width="6.0" height="6.0"/>
</g>
<g fill="#fff" stroke="#000" stroke-width="0.6">
<circle cx="424.0" cy="402.2" r="3.4"/>
<circle cx="426.8" cy="402.1" r="3.4"/>
<circle cx="429.7" cy="401.8" r="3.4"/>
<circle cx="432.5" cy="401.3" r="3.4"/>
<circle cx="435.4" cy="400.7" r="3.4"/>
<circle cx="438.2" cy="400.1" r="3.4"/>
<circle cx="441.0" cy="399.3" r="3.4"/>
<circle cx="443.9" cy="398.0" r="3.4"/>
<circle cx="446.7" cy="396.5" r="3.4"/>
<circle cx="449.6" cy="394.8" r="3.4"/>
<circle cx="452.4" cy="392.8" r="3.4"/>
<circle cx="455.2" cy="390.6" r="3.4"/>
<circle cx="458.1" cy="388.1" r="3.4"/>
<circle cx="460.9" cy="385.4" r="3.4"/>
<circle cx="463.8" cy="382.6" r="3.4"/>
<circle cx="466.6" cy="379.5" r="3.4"/>
<circle cx="469.4" cy="376.2" r="3.4"/>
<circle cx="472.3" cy="372.7" r="3.4"/>
<circle cx="475.1" cy="369.0" r="3.4"/>
<circle cx="478.0" cy="364.9" r="3.4"/>
<circle cx="480.8" cy="360.3" r="3.4"/>
<circle cx="483.6" cy="355.4" r="3.4"/>
<circle cx="486.5" cy="350.6" r="3.4"/>
<circle cx="489.3" cy="346.0" r="3.4"/>
<circle cx="492.2" cy="341.5" r="3.4"/>
<circle cx="495.0" cy="337.0" r="3.4"/>
<circle cx="497.8" cy="332.8" r="3.4"/>
<circle cx="500.7" cy="328.7" r="3.4"/>
<circle cx="503.5" cy="324.6" r="3.4"/>
<circle cx="506.4" cy="320.3" r="3.4"/>
<circle cx="509.2" cy="315.9" r="3.4"/>
<circle cx="512.0" cy="311.6" r="3.4"/>
<circle cx="514.9" cy="307.3" r="3.4"/>
<circle cx="517.7" cy="303.0" r="3.4"/>
<circle cx="520.6" cy="298.8" r="3.4"/>
<circle cx="523.4" cy="294.8" r="3.4"/>
<circle cx="526.2" cy="291.0" r="3.4"/>
<circle cx="529.1" cy="287.5" r="3.4"/>
<circle cx="531.9" cy="284.1" r="3.4"/>
<circle cx="534.8" cy="280.7" r="3.4"/>
<circle cx="537.6" cy="277.0" r="3.4"/>
<circle cx="540.4" cy="273.4" r="3.4"/>
<circle cx="543.3" cy="269.8" r="3.4"/>
<circle cx="546.1" cy="266.2" r="3.4"/>
<circle cx="549.0" cy="262.7" r="3.4"/>
<circle cx="551.8" cy="259.3" r="3.4"/>
<circle cx="554.6" cy="256.0" r="3.4"/>
<circle cx="557.5" cy="252.6" r="3.4"/>
<circle cx="560.3" cy="249.4" r="3.4"/>
<circle cx="563.2" cy="246.4" r="3.4"/>
<circle cx="566.0" cy="243.5" r="3.4"/>
<circle cx="568.8" cy="240.6" r="3.4"/>
<circle cx="571.7" cy="237.9" r="3.4"/>
<circle cx="574.5" cy="235.3" r="3.4"/>
<circle cx="577.4" cy="232.8" r="3.4"/>
<circle cx="580.2" cy="230.4" r="3.4"/>
<circle cx="583.0" cy="228.1" r="3.4"/>
<circle cx="585.9" cy="225.9" r="3.4"/>
<circle cx="588.7" cy="223.9" r="3.4"/>
<circle cx="591.6" cy="222.0" r="3.4"/>
<circle cx="594.4" cy="220.2" r="3.4"/>
<circle cx="597.2" cy="218.4" r="3.4"/>
<circle cx="600.1" cy="216.7" r="3.4"/>
<circle cx="602.9" cy="215.4" r="3.4"/>
<circle cx="605.8" cy="214.1" r="3.4"/>
<circle cx="608.6" cy="212.8" r="3.4"/>
<circle cx="611.4" cy="211.6" r="3.4"/>
<circle cx="614.3" cy="210.3" r="3.4"/>
<circle cx="617.1" cy="209.1" r="3.4"/>
<circle cx="620.0" cy="207.8" r="3.4"/>
<circle cx="622.8" cy="206.5" r="3.4"/>
<circle cx="625.6" cy="205.2" r="3.4"/>
<circle cx="628.5" cy="204.0" r="3.4"/>
<circle cx="631.3" cy="202.9" r="3.4"/>
<circle cx="634.2" cy="201.8" r="3.4"/>
<circle cx="637.0" cy="200.7" r="3.4"/>
<circle cx="639.8" cy="199.8" r="3.4"/>
<circle cx="642.7" cy="199.1" r="3.4"/>
<circle cx="645.5" cy="198.4" r="3.4"/>
<circle cx="648.4" cy="197.7" r="3.4"/>
<circle cx="651.2" cy="197.1" r="3.4"/>
<circle cx="654.0" cy="196.5" r="3.4"/>
<circle cx="656.9" cy="195.9" r="3.4"/>
<circle cx="659.7" cy="195.5" r="3.4"/>
<circle cx="662.6" cy="195.1" r="3.4"/>
<circle cx="665.4" cy="194.7" r="3.4"/>
<circle cx="668.2" cy="194.3" r="3.4"/>
<circle cx="671.1" cy="194.0" r="3.4"/>
<circle cx="673.9" cy="193.7" r="3.4"/>
<circle cx="676.8" cy="193.4" r="3.4"/>
<circle cx="679.6" cy="193.2" r="3.4"/>
<circle cx="682.4" cy="192.9" r="3.4"/>
<circle cx="685.3" cy="192.7" r="3.4"/>
<circle cx="688.1" cy="192.6" r="3.4"/>
<circle cx="691.0" cy="192.5" r="3.4"/>
</g>
<g fill="none" stroke="#000" stroke-width="1.4" stroke-linejoin="round">
<path d="M424.3 399.6 L426.3 399.5 L428.3 399.3 L430.3 399.0 L432.3 398.6 L434.3 398.3 L436.3 397.8 L438.3 397.1 L440.3 396.4 L442.3 395.4 L444.3 394.2 L446.3 392.8 L448.3 391.2 L450.3 389.4 L452.3 387.4 L454.3 385.3 L456.3 383.0 L458.3 380.5 L460.3 377.9 L462.3 375.1 L464.3 372.0 L466.3 368.6 L468.3 365.0 L470.3 361.3 L472.3 357.7 L474.3 354.0 L476.3 350.3 L478.3 346.6 L480.3 343.0 L482.3 339.4 L484.3 335.8 L486.3 332.2 L488.3 328.7 L490.3 325.1 L492.3 321.4 L494.3 317.8 L496.3 314.2 L498.3 310.6 L500.3 307.0 L502.3 303.3 L504.3 299.6 L506.3 295.9 L508.3 292.4 L510.3 289.0 L512.3 285.7 L514.3 282.4 L516.3 279.4 L518.3 276.6 L520.3 274.0 L522.3 271.5 L524.3 269.0 L526.3 266.6 L528.3 264.1 L530.3 261.6 L532.3 259.1 L534.3 256.5 L536.3 254.0 L538.3 251.6 L540.3 249.1 L542.3 246.7 L544.3 244.3 L546.3 241.9 L548.3 239.7 L550.3 237.6 L552.3 235.8 L554.3 234.1 L556.3 232.6 L558.3 231.1 L560.3 229.7 L562.3 228.3 L564.3 227.0 L566.3 225.7 L568.3 224.5 L570.3 223.2 L572.3 221.9 L574.3 220.6 L576.3 219.4 L578.3 218.1 L580.3 216.9 L582.3 215.8 L584.3 214.6 L586.3 213.6 L588.3 212.5 L590.3 211.6 L592.3 210.6 L594.3 209.7 L596.3 208.8 L598.3 208.0 L600.3 207.1 L602.3 206.3 L604.3 205.6 L606.3 204.9 L608.3 204.2 L610.3 203.5 L612.3 202.9 L614.3 202.3 L616.3 201.7 L618.3 201.1 L620.3 200.6 L622.3 200.0 L624.3 199.5 L626.3 199.0 L628.3 198.5 L630.3 198.0 L632.3 197.6 L634.3 197.1 L636.3 196.6 L638.3 196.2 L640.3 195.7 L642.3 195.3 L644.3 194.8 L646.3 194.4 L648.3 194.0 L650.3 193.6 L652.3 193.2 L654.3 192.8 L656.3 192.5 L658.3 192.2 L660.3 191.8 L662.3 191.5 L664.3 191.3 L666.3 191.0 L668.3 190.7 L670.3 190.5 L672.3 190.3 L674.3 190.1 L676.3 189.9 L678.3 189.7 L680.3 189.5 L682.3 189.4 L684.3 189.2 L686.3 189.0 L688.3 188.9 L690.3 188.8 L692.3 188.7 L692.5 188.7"/>
<path d="M424.3 400.2 L426.3 400.2 L428.3 400.0 L430.3 399.8 L432.3 399.5 L434.3 399.2 L436.3 398.8 L438.3 398.3 L440.3 397.9 L442.3 397.1 L444.3 396.2 L446.3 395.1 L448.3 394.0 L450.3 392.8 L452.3 391.4 L454.3 389.9 L456.3 388.3 L458.3 386.5 L460.3 384.7 L462.3 382.7 L464.3 380.7 L466.3 378.6 L468.3 376.3 L470.3 374.0 L472.3 371.5 L474.3 368.9 L476.3 366.1 L478.3 363.1 L480.3 359.8 L482.3 356.4 L484.3 352.9 L486.3 349.5 L488.3 346.3 L490.3 343.0 L492.3 339.8 L494.3 336.7 L496.3 333.6 L498.3 330.7 L500.3 327.7 L502.3 324.8 L504.3 321.7 L506.3 318.6 L508.3 315.4 L510.3 312.3 L512.3 309.1 L514.3 306.0 L516.3 303.0 L518.3 299.9 L520.3 296.8 L522.3 293.8 L524.3 291.0 L526.3 288.3 L528.3 285.7 L530.3 283.2 L532.3 280.7 L534.3 278.3 L536.3 275.8 L538.3 273.3 L540.3 270.9 L542.3 268.5 L544.3 266.1 L546.3 263.7 L548.3 261.4 L550.3 259.2 L552.3 256.9 L554.3 254.6 L556.3 252.4 L558.3 250.2 L560.3 248.1 L562.3 246.1 L564.3 244.1 L566.3 242.3 L568.3 240.6 L570.3 238.9 L572.3 237.3 L574.3 235.8 L576.3 234.3 L578.3 232.8 L580.3 231.3 L582.3 229.9 L584.3 228.6 L586.3 227.2 L588.3 226.0 L590.3 224.8 L592.3 223.7 L594.3 222.6 L596.3 221.6 L598.3 220.6 L600.3 219.6 L602.3 218.7 L604.3 217.8 L606.3 216.9 L608.3 216.0 L610.3 215.1 L612.3 214.2 L614.3 213.3 L616.3 212.4 L618.3 211.5 L620.3 210.6 L622.3 209.7 L624.3 208.8 L626.3 208.0 L628.3 207.1 L630.3 206.3 L632.3 205.5 L634.3 204.7 L636.3 204.0 L638.3 203.3 L640.3 202.7 L642.3 202.1 L644.3 201.6 L646.3 201.1 L648.3 200.6 L650.3 200.1 L652.3 199.6 L654.3 199.2 L656.3 198.8 L658.3 198.4 L660.3 198.0 L662.3 197.6 L664.3 197.3 L666.3 196.9 L668.3 196.6 L670.3 196.3 L672.3 196.0 L674.3 195.7 L676.3 195.4 L678.3 195.1 L680.3 194.9 L682.3 194.6 L684.3 194.4 L686.3 194.2 L688.3 194.0 L690.3 193.9 L691.5 193.8"/>
</g>
<circle cx="691.9" cy="192.4" r="3.6" fill="#fff" stroke="#000" stroke-width="0.7"/>
<g stroke="#000" stroke-width="0.8" fill="none">
<path d="M415.4 176.6 V411.3 H731.7"/>
</g>
<g stroke="#000" stroke-width="1" fill="none">
<path d="M410.2 403.5 H415.4"/>
<path d="M410.2 354.5 H415.4"/>
<path d="M410.2 306.5 H415.4"/>
<path d="M410.2 257.5 H415.4"/>
<path d="M410.2 209.5 H415.4"/>
<path d="M412.6 379.5 H415.4"/>
<path d="M412.6 330.5 H415.4"/>
<path d="M412.6 282.5 H415.4"/>
<path d="M412.6 233.5 H415.4"/>
<path d="M412.6 185.5 H415.4"/>
<path d="M424.5 411.3 V416.7"/>
<path d="M518.5 411.3 V416.7"/>
<path d="M613.5 411.3 V416.7"/>
<path d="M707.5 411.3 V416.7"/>
<path d="M471.5 411.3 V414.3"/>
<path d="M566.5 411.3 V414.3"/>
<path d="M660.5 411.3 V414.3"/>
</g>
<g font-size="18.3px" text-anchor="end">
<text x="406.6" y="408.9">0,0</text>
<text x="406.6" y="359.9">0,3</text>
<text x="406.6" y="311.9">0,6</text>
<text x="406.6" y="262.9">0,9</text>
<text x="406.6" y="214.9">1,2</text>
</g>
<g font-size="18.3px" text-anchor="middle">
<text x="424.5" y="434.4">0</text>
<text x="518.5" y="434.4">1000</text>
<text x="613.5" y="434.4">2000</text>
<text x="707.5" y="434.4">3000</text>
<text x="574.2" y="457.4" font-size="18.6px" letter-spacing="0.3">Time (s)</text>
</g>
<text transform="translate(363.5 318.6) rotate(-90)" font-size="18.5px">Abs<tspan font-size="11.2px" dy="8.4" letter-spacing="0.1">(600nm)</tspan></text>
<g stroke="#000" stroke-width="2" fill="none">
<path d="M110.15 2.1 V473.0" stroke-width="2.4"/>
<path d="M105 472.0 H743.3"/>
<path d="M100 50.0 H110.4"/>
<path d="M100 143.8 H110.4"/>
<path d="M100 237.6 H110.4"/>
<path d="M100 331.3 H110.4"/>
<path d="M100 425.1 H110.4"/>
<path d="M105 3.2 H110.4"/>
<path d="M105 96.9 H110.4"/>
<path d="M105 190.7 H110.4"/>
<path d="M105 284.4 H110.4"/>
<path d="M105 378.2 H110.4"/>
<path d="M125.7 472.0 V482"/>
<path d="M279.8 472.0 V482"/>
<path d="M434.0 472.0 V482"/>
<path d="M588.1 472.0 V482"/>
<path d="M742.3 472.0 V482"/>
<path d="M202.8 472.0 V477.3"/>
<path d="M356.9 472.0 V477.3"/>
<path d="M511.1 472.0 V477.3"/>
<path d="M665.2 472.0 V477.3"/>
</g>
<g font-size="27.5px" text-anchor="end">
<text x="94.4" y="57.8">-10</text>
<text x="94.4" y="151.5">-20</text>
<text x="94.4" y="245.2">-30</text>
<text x="94.4" y="339.0">-40</text>
<text x="94.4" y="432.8">-50</text>
</g>
<g font-size="27.2px" text-anchor="middle">
<text x="125.7" y="509.2">0</text>
<text x="279.8" y="509.2">1000</text>
<text x="434.0" y="509.2">2000</text>
<text x="588.1" y="509.2">3000</text>
<text x="742.3" y="509.2">4000</text>
</g>
<text x="418.2" y="556.1" font-size="28.6px" text-anchor="middle" letter-spacing="0.5">Time (s)</text>
<text transform="translate(23.4 342.6) rotate(-90)" font-size="28.6px" letter-spacing="0.3">CD<tspan font-size="17.1px" dy="11.7">222nm</tspan><tspan font-size="28.6px" dy="-11.7" dx="-1.5" letter-spacing="0.45"> (mdeg)</tspan></text>
</svg>
</body></html>
